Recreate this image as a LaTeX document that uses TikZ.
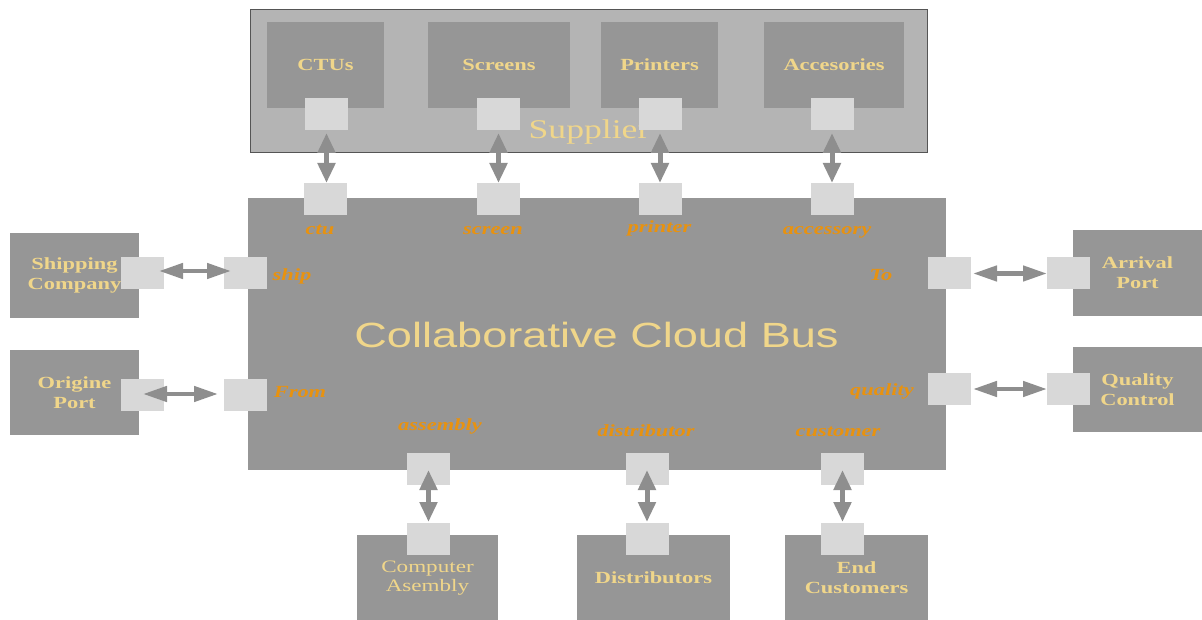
\documentclass[tikz,border=0pt]{standalone}
\usepackage{fontspec}
\setmainfont{Liberation Serif}[FakeStretch=1.32]
\newfontfamily\lsans{Liberation Sans}[FakeStretch=1.29]
\usetikzlibrary{arrows.meta}
\definecolor{boxgray}{HTML}{969696}
\definecolor{portgray}{HTML}{D8D8D8}
\definecolor{supgray}{HTML}{B4B4B4}
\definecolor{supedge}{HTML}{555555}
\definecolor{arrgray}{HTML}{8E8E8E}
\definecolor{cream}{HTML}{F0D68A}
\definecolor{orangelab}{HTML}{E8920F}
\tikzset{
  box/.style={fill=boxgray, inner sep=0pt, text=cream, align=center},
  port/.style={fill=portgray, inner sep=0pt, minimum width=43pt, minimum height=32pt},
  lab/.style={text=orangelab, font=\fontsize{17}{19}\selectfont\bfseries\itshape, inner sep=0pt, anchor=base},
  bl/.style={font=\fontsize{17}{20}\selectfont\bfseries},
  rg/.style={font=\fontsize{17.5}{18.5}\selectfont},
  varr/.style={line width=5pt, arrgray, {Triangle[width=17pt,length=20pt]}-{Triangle[width=17pt,length=20pt]}},
  harr/.style={line width=4.5pt, arrgray, {Triangle[width=15pt,length=24pt]}-{Triangle[width=15pt,length=24pt]}}
}
\begin{document}
\begin{tikzpicture}[x=1pt,y=-1pt]
\useasboundingbox (0,0) rectangle (1202,620);
% supplier
\node[fill=supgray, draw=supedge, line width=1pt, minimum width=677pt, minimum height=143pt, inner sep=0pt] (sup) at (588.5,81.5) {};
\node[box, bl, minimum width=117pt, minimum height=86pt] (ctus) at (325.5,65) {CTUs};
\node[box, bl, minimum width=142pt, minimum height=86pt] (screens) at (499,65) {Screens};
\node[box, bl, minimum width=117pt, minimum height=86pt] (printers) at (659.5,65) {Printers};
\node[box, bl, minimum width=140pt, minimum height=86pt] (acc) at (834,65) {Accesories};
\node[text=cream, font=\fontsize{27}{30}\selectfont, inner sep=0pt, anchor=base] (suplab) at (589,139) {Supplier};
\node[port] (pctu) at (326.5,114) {};
\node[port] (pscr) at (498.5,114) {};
\node[port] (pprn) at (660,114) {};
\node[port] (pacc) at (832,114) {};
% bus
\node[box, minimum width=698pt, minimum height=272pt] (bus) at (596.5,334) {};
\node[text=cream, font=\lsans\fontsize{35}{38}\selectfont, inner sep=0pt, anchor=base] (buslab) at (596.5,347) {Collaborative Cloud Bus};
\node[port] (bctu) at (325,199) {};
\node[port] (bscr) at (498,199) {};
\node[port] (bprn) at (660,199) {};
\node[port] (bacc) at (832,199) {};
\node[port] (bship) at (245.5,273) {};
\node[port] (bfrom) at (245.5,395) {};
\node[port] (bto) at (949.5,273.5) {};
\node[port] (bqual) at (949.5,389) {};
\node[port] (basm) at (428.5,469) {};
\node[port] (bdis) at (647,469) {};
\node[port] (bcus) at (842.5,469) {};
% labels
\node[lab] (lctu) at (320,235) {ctu};
\node[lab] (lscr) at (493,235) {screen};
\node[lab] (lprn) at (659.5,233) {printer};
\node[lab] (lacc) at (827,235) {accessory};
\node[lab] (lship) at (292,281) {ship};
\node[lab] (lfrom) at (300,397) {From};
\node[lab] (lto) at (881,281) {To};
\node[lab] (lqual) at (882,395) {quality};
\node[lab] (lasm) at (440,430) {assembly};
\node[lab] (ldis) at (646,436) {distributor};
\node[lab] (lcus) at (838,436) {customer};
% side boxes
\node[box, bl, minimum width=129pt, minimum height=85pt] (ship) at (74.5,275.5) {Shipping\\Company};
\node[box, bl, minimum width=129pt, minimum height=85pt] (orig) at (74.5,392.5) {Origine\\Port};
\node[box, bl, minimum width=129pt, minimum height=86pt] (arr) at (1137.5,273) {Arrival\\Port};
\node[box, bl, minimum width=129pt, minimum height=85pt] (qc) at (1137.5,389.5) {Quality\\Control};
\node[port] (pship) at (142.5,273) {};
\node[port] (porig) at (142.5,395) {};
\node[port] (parr) at (1068.5,273.5) {};
\node[port] (pqc) at (1068.5,389) {};
% bottom boxes
\node[box, rg, minimum width=141pt, minimum height=86pt] (asm) at (427.5,578) {Computer\\Asembly};
\node[box, bl, minimum width=153pt, minimum height=86pt] (dis) at (653.5,578) {Distributors};
\node[box, bl, minimum width=143pt, minimum height=86pt] (cus) at (856.5,578) {End\\Customers};
\node[port] (pasm) at (428.5,538.5) {};
\node[port] (pdis) at (647,538.5) {};
\node[port] (pcus) at (842.5,538.5) {};
% arrows
\draw[varr, shorten <=19pt, shorten >=16pt] (pctu.center) -- (pctu.center |- bctu.center);
\draw[varr, shorten <=19pt, shorten >=16pt] (pscr.center) -- (pscr.center |- bscr.center);
\draw[varr, shorten <=19pt, shorten >=16pt] (pprn.center) -- (pprn.center |- bprn.center);
\draw[varr, shorten <=19pt, shorten >=16pt] (pacc.center) -- (pacc.center |- bacc.center);
\draw[harr, shorten <=16.5pt, shorten >=14.5pt] ([yshift=2pt]pship.center) -- ([yshift=2pt]bship.center);
\draw[harr, shorten <=0.5pt, shorten >=27.5pt] ([yshift=1pt]porig.center) -- ([yshift=1pt]bfrom.center);
\draw[harr, shorten <=23.5pt, shorten >=21.5pt] (bto.center) -- (parr.center);
\draw[harr, shorten <=23.5pt, shorten >=21.5pt] (bqual.center) -- (pqc.center);
\draw[varr, shorten <=1pt, shorten >=16.5pt] (basm.center) -- (pasm.center);
\draw[varr, shorten <=1pt, shorten >=16.5pt] (bdis.center) -- (pdis.center);
\draw[varr, shorten <=1pt, shorten >=16.5pt] (bcus.center) -- (pcus.center);
\end{tikzpicture}
\end{document}
